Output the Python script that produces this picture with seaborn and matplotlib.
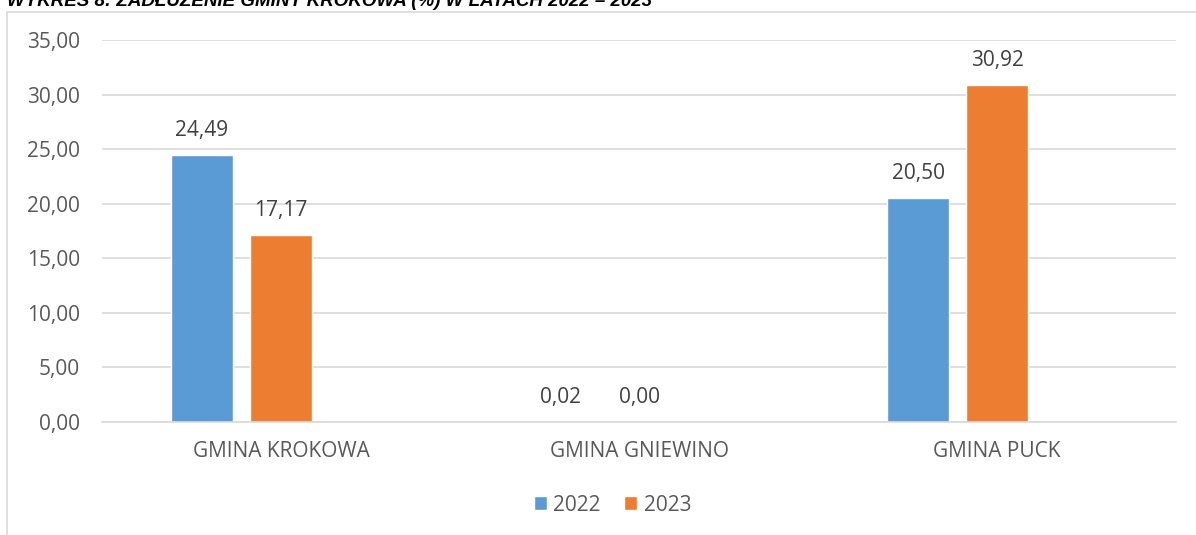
import pandas as pd
import matplotlib.pyplot as plt
import seaborn as sns
from matplotlib.patches import Rectangle

# data
gminy = ['GMINA KROKOWA', 'GMINA GNIEWINO', 'GMINA PUCK']
lata = ['2022', '2023']
v2022 = [24.49, 0.02, 20.50]
v2023 = [17.17, 0.00, 30.92]
yticks = [0, 5, 10, 15, 20, 25, 30, 35]

df = pd.DataFrame({
    'gmina': gminy * 2,
    'rok': [lata[0]] * 3 + [lata[1]] * 3,
    'wartosc': v2022 + v2023,
})

sns.set_style('white')
plt.rcParams['font.family'] = ['Open Sans', 'DejaVu Sans']

fig = plt.figure(figsize=(11.96, 5.35), dpi=100)
ax = fig.add_axes([0.0853, 0.2112, 0.898, 0.714])

# the source chart keeps an empty third series slot, so bars sit left of centre
sns.barplot(data=df, x='gmina', y='wartosc', hue='rok', hue_order=lata + [' '],
            ax=ax, palette=['#5b9bd5', '#ed7d31', '#ffffff'], width=0.662, gap=0.215,
            saturation=1, legend=True)

for cont in ax.containers:
    if len(cont.datavalues) == 0:
        continue
    ax.bar_label(cont, labels=[f'{v:.2f}'.replace('.', ',') for v in cont.datavalues],
                 padding=10, fontsize=15, color='#404040')

ax.set_ylim(0, 35)
ax.set_xlim(-0.5, 2.5)
ax.set_yticks(yticks)
ax.set_yticklabels([f'{t:.2f}'.replace('.', ',') for t in yticks])
ax.yaxis.grid(True, color='#d9d9d9', linewidth=1.2)
ax.set_axisbelow(True)
for s in ['top', 'right', 'left']:
    ax.spines[s].set_visible(False)
ax.spines['bottom'].set_color('#d9d9d9')
ax.spines['bottom'].set_linewidth(1.2)
ax.tick_params(axis='both', length=0, labelsize=15, labelcolor='#595959')
ax.tick_params(axis='y', pad=16)
ax.tick_params(axis='x', pad=14)
ax.set_xlabel('')
ax.set_ylabel('')

h, l = ax.get_legend_handles_labels()
ax.legend_.remove()
fig.legend(h[:2], l[:2], loc='center', bbox_to_anchor=(0.512, 0.056), ncol=2,
           frameon=False, fontsize=15, handlelength=0.65, handleheight=0.65,
           handletextpad=0.3, columnspacing=1.1, labelcolor='#595959')

# chart area frame
fig.patches.append(Rectangle((7 / 1196, -0.1), 1.2, 1 - 12 / 535 + 0.1,
                             transform=fig.transFigure, fill=False,
                             edgecolor='#d9d9d9', linewidth=1.2))

# cropped caption above the chart
fig.text(7 / 1196, 1 - 6 / 535, 'WYKRES 8: ZADŁUŻENIE GMINY KROKOWA (%) W LATACH 2022 – 2023',
         ha='left', va='baseline', fontsize=13.5, fontweight='bold', fontstyle='italic',
         family=['Liberation Sans', 'DejaVu Sans'], color='#000000')

fig.savefig('out.png', dpi=100)
